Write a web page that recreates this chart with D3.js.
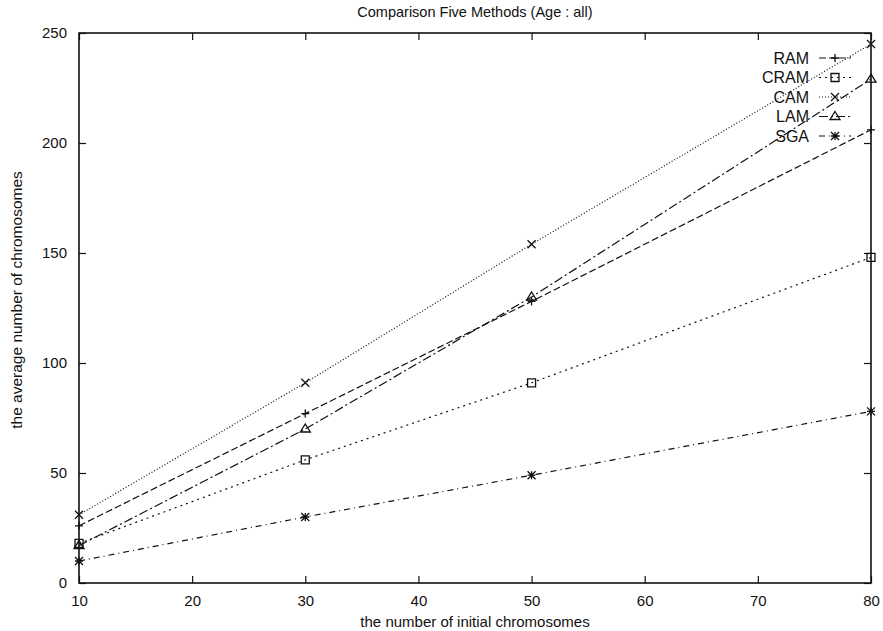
<!DOCTYPE html>
<html>
<head>
<meta charset="utf-8">
<script src="https://cdn.jsdelivr.net/npm/d3@7"></script>
<style>
body { margin: 0; background: #fff; }
text { font-family: "Liberation Sans", Arial, sans-serif; fill: #111; }
</style>
</head>
<body>
<div id="chart"></div>
<script>

const margin = { top: 33, right: 12, bottom: 48, left: 79 }
const W = 883, H = 631
const width = W - margin.left - margin.right
const height = H - margin.top - margin.bottom

// data
const xVals = [10, 30, 50, 80]
const seriesNames = ["RAM", "CRAM", "CAM", "LAM", "SGA"]
const ramVals = [26, 77, 128, 206]
const cramVals = [18, 56, 91, 148]
const camVals = [31, 91, 154, 245]
const lamVals = [17, 70, 130, 229]
const sgaVals = [10, 30, 49, 78]
const xTicks = [10, 20, 30, 40, 50, 60, 70, 80]
const yTicks = [0, 50, 100, 150, 200, 250]

const dashes = ["7,3", "2,4", "1,2", "9,3,2,3", "6,4,1,4"]
const syms = ["plus", "square", "cross", "triangle", "star"]
const valLists = [ramVals, cramVals, camVals, lamVals, sgaVals]

const series = seriesNames.map((n, i) => ({ name: n, vals: valLists[i], dash: dashes[i], sym: syms[i] }))

const x = d3.scaleLinear().domain([10, 80]).range([0, width])
const y = d3.scaleLinear().domain([0, 250]).range([height, 0])

const svg = d3.select('#chart').append('svg').attr("width", W).attr("height", H)
const g = svg.append('g').attr("transform", `translate(${margin.left},${margin.top})`)

// ticks, inward on all sides
const tickLen = 7
g.append('g').attr("transform", `translate(0,${height})`)
  .call(d3.axisBottom(x).tickValues(xTicks).tickSize(-tickLen).tickPadding(tickLen + 5))
  .call(a => a.select(".domain").remove())
g.append('g')
  .call(d3.axisTop(x).tickValues(xTicks).tickSize(-tickLen).tickFormat(""))
  .call(a => a.select(".domain").remove())
g.append('g')
  .call(d3.axisLeft(y).tickValues(yTicks).tickSize(-tickLen).tickPadding(tickLen + 5))
  .call(a => a.select(".domain").remove())
g.append('g').attr("transform", `translate(${width},0)`)
  .call(d3.axisRight(y).tickValues(yTicks).tickSize(-tickLen).tickFormat(""))
  .call(a => a.select(".domain").remove())

g.selectAll(".tick text").style("font-size", "15px").style("font-family", '"Liberation Sans", Arial, sans-serif').attr("fill", "#111")
g.selectAll(".tick line").attr("stroke", "#111").attr("stroke-width", 1.2)

g.append('rect').attr("width", width).attr("height", height)
  .attr("fill", "none").attr("stroke", "#111").attr("stroke-width", 1.6)

function symbolPath(sym, cx, cy) {
  const s = 4
  if (sym == "plus") return `M${cx - s},${cy}H${cx + s}M${cx},${cy - s}V${cy + s}`
  if (sym == "square") return `M${cx - s},${cy - s}H${cx + s}V${cy + s}H${cx - s}Z`
  if (sym == "cross") return `M${cx - s},${cy - s}L${cx + s},${cy + s}M${cx - s},${cy + s}L${cx + s},${cy - s}`
  if (sym == "triangle") return `M${cx},${cy - s - 1}L${cx + s + 1},${cy + s - 1}L${cx - s - 1},${cy + s - 1}Z`
  // star: plus + cross
  return `M${cx - s},${cy}H${cx + s}M${cx},${cy - s}V${cy + s}M${cx - s},${cy - s}L${cx + s},${cy + s}M${cx - s},${cy + s}L${cx + s},${cy - s}`
}

const line = d3.line().x((d, i) => x(xVals[i])).y(d => y(d))

series.forEach(function (s) {
  g.append('path').datum(s.vals)
    .attr("d", line)
    .attr("fill", "none").attr("stroke", "#111").attr("stroke-width", 1.2)
    .attr("stroke-dasharray", s.dash)

  g.selectAll(null).data(s.vals).enter().append('path')
    .attr("d", (d, i) => symbolPath(s.sym, x(xVals[i]), y(d)))
    .attr("fill", "none").attr("stroke", "#111").attr("stroke-width", 1.3)
})

// legend
const leg = g.append('g').attr("transform", `translate(${809 - margin.left},${58 - margin.top})`)
series.forEach(function (s, i) {
  const ly = i * 19.5
  leg.append('text').attr("x", 0).attr("y", ly).attr("dy", "0.35em")
    .attr("text-anchor", "end").style("font-size", "16px").text(s.name)
  leg.append('line').attr("x1", 10).attr("x2", 42).attr("y1", ly).attr("y2", ly)
    .attr("stroke", "#111").attr("stroke-width", 1.2).attr("stroke-dasharray", s.dash)
  leg.append('path').attr("d", symbolPath(s.sym, 26, ly))
    .attr("fill", "none").attr("stroke", "#111").attr("stroke-width", 1.3)
})

// titles
svg.append('text').attr("x", margin.left + width / 2).attr("y", 17)
  .attr("text-anchor", "middle").style("font-size", "14.5px").text("Comparison Five Methods (Age : all)")
svg.append('text').attr("x", margin.left + width / 2).attr("y", 627)
  .attr("text-anchor", "middle").style("font-size", "15px").text("the number of initial chromosomes")
svg.append('text').attr("transform", `translate(22,${margin.top + height / 2 - 8}) rotate(-90)`)
  .attr("text-anchor", "middle").style("font-size", "15.5px").text("the average number of chromosomes")

</script>
</body>
</html>
